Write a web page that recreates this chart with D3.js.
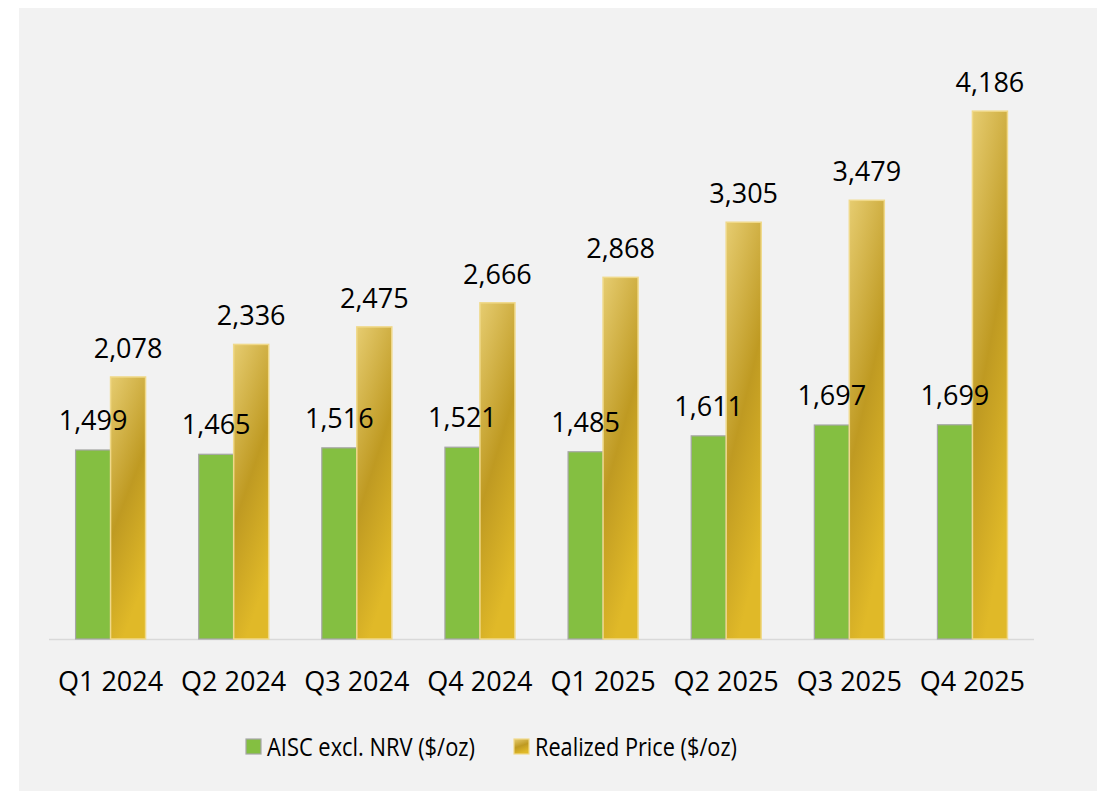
<!DOCTYPE html>
<html><head><meta charset="utf-8">
<script src="https://cdn.jsdelivr.net/npm/d3@7"></script>
<style>body{margin:0;background:#fff;}svg{display:block;font-family:"Open Sans",sans-serif;}</style>
</head><body>
<svg id="chart" width="1099" height="791"></svg>
<script>
const categories = ["Q1 2024","Q2 2024","Q3 2024","Q4 2024","Q1 2025","Q2 2025","Q3 2025","Q4 2025"];
const aisc = [1499,1465,1516,1521,1485,1611,1697,1699];
const realized = [2078,2336,2475,2666,2868,3305,3479,4186];
const seriesNames = ["AISC excl. NRV ($/oz)","Realized Price ($/oz)"];

const svg = d3.select("#chart");
svg.append("rect").attr("x",19).attr("y",8).attr("width",1078).attr("height",783).attr("fill","#f2f2f2");

const defs = svg.append("defs");
const g = defs.append("linearGradient").attr("id","gold").attr("x1","0").attr("y1","0").attr("x2","0.35").attr("y2","1");
[[0,"#e6cc70"],[0.55,"#bf9a22"],[1,"#e0b928"]].forEach(([o,c])=>g.append("stop").attr("offset",o).attr("stop-color",c));

const x = d3.scaleBand().domain(categories).range([49,1034]);
const y = d3.scaleLinear().domain([0,5000]).range([639,8.5]);
const bw = 35;
const fmt = d3.format(",");

svg.append("line").attr("x1",49).attr("x2",1034).attr("y1",639.5).attr("y2",639.5).attr("stroke","#d9d9d9").attr("stroke-width",1.5);

const grp = svg.selectAll("g.cat").data(categories).join("g").attr("class","cat");
grp.append("rect")
  .attr("x",(d)=>x(d)+x.bandwidth()/2-bw)
  .attr("y",(d,i)=>y(aisc[i]))
  .attr("width",bw).attr("height",(d,i)=>y(0)-y(aisc[i]))
  .attr("fill","#84bf41").attr("stroke","#a6a6a6").attr("stroke-width",1.2);
grp.append("rect")
  .attr("x",(d)=>x(d)+x.bandwidth()/2)
  .attr("y",(d,i)=>y(realized[i]))
  .attr("width",bw).attr("height",(d,i)=>y(0)-y(realized[i]))
  .attr("fill","url(#gold)").attr("stroke","#f0d98a").attr("stroke-width",1.5);

grp.append("text")
  .attr("x",(d)=>x(d)+x.bandwidth()/2-bw/2)
  .attr("y",(d,i)=>y(aisc[i])-20)
  .attr("text-anchor","middle").attr("font-size",27).attr("fill","#000")
  .text((d,i)=>fmt(aisc[i]));
grp.append("text")
  .attr("x",(d)=>x(d)+x.bandwidth()/2+bw/2)
  .attr("y",(d,i)=>y(realized[i])-19)
  .attr("text-anchor","middle").attr("font-size",27).attr("fill","#000")
  .text((d,i)=>fmt(realized[i]));

const xAxis = svg.append("g").attr("transform","translate(0,639)")
  .call(d3.axisBottom(x).tickSize(0).tickPadding(0));
xAxis.select(".domain").remove();
xAxis.selectAll("text").attr("font-size",27).attr("font-family","Open Sans, sans-serif").attr("fill","#000")
  .attr("dy",null).attr("y",52);

const leg = svg.append("g");
const legItems = [{name:seriesNames[0],x:246,len:208,fill:"#84bf41",stroke:"#a6a6a6"},{name:seriesNames[1],x:514,len:202,fill:"url(#gold)",stroke:"#f0d98a"}];
legItems.forEach(l=>{
  leg.append("rect").attr("x",l.x).attr("y",739).attr("width",15).attr("height",15).attr("fill",l.fill).attr("stroke",l.stroke).attr("stroke-width",1.2);
  leg.append("text").attr("x",l.x+21).attr("y",756).attr("font-size",25).attr("fill","#000")
    .attr("textLength",l.len).attr("lengthAdjust","spacingAndGlyphs").text(l.name);
});
</script>
</body></html>
